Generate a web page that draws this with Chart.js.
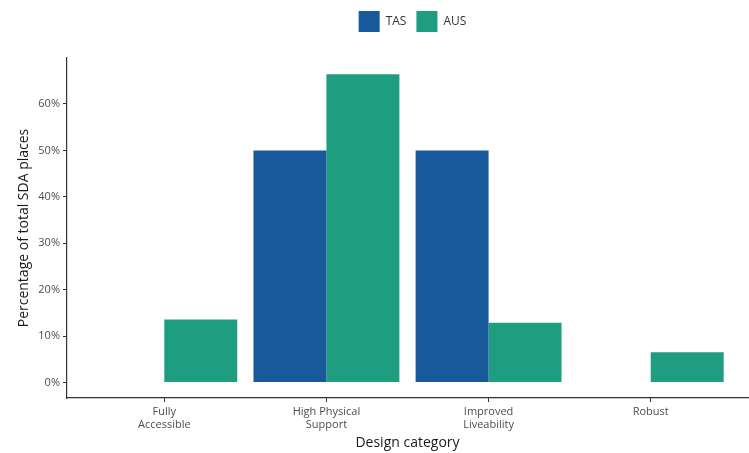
<!DOCTYPE html>
<html>
<head>
<meta charset="utf-8">
<script src="https://cdn.jsdelivr.net/npm/chart.js@4"></script>
<style>
  html, body { margin: 0; padding: 0; background: #fff; }
  #wrap { width: 749px; height: 453px; }
</style>
</head>
<body>
<div id="wrap"><canvas id="sdaChart" width="749" height="453"></canvas></div>
<script>
// Design categories and shares of SDA places
const categories = [['Fully', 'Accessible'], ['High Physical', 'Support'], ['Improved', 'Liveability'], ['Robust']];
const tasValues = [0, 50, 50, 0];
const ausValues = [13.6, 66.4, 12.9, 6.5];
const yTicks = [0, 10, 20, 30, 40, 50, 60];

const tickColor = '#4d4d4d';
const axisColor = '#333333';
const fontFamily = "'Open Sans', 'Noto Sans', sans-serif";

// push legend away from the plot and center it over the plot area
const legendTweak = {
    id: 'legendTweak',
    beforeInit(chart) {
        const fit = chart.legend.fit;
        chart.legend.fit = function () {
            fit.bind(chart.legend)();
            this.height += 16;
        };
    },
    afterLayout(chart) {
        chart.legend.left = chart.chartArea.left + 5;
        chart.legend.right = chart.chartArea.right + 5;
    }
};

const ctx = document.getElementById('sdaChart').getContext('2d');
const sdaChart = new Chart(ctx, {
    type: 'bar',
    data: {
        datasets: [
            {
                label: 'TAS',
                data: tasValues.map((v, i) => ({ x: i, y: v })),
                backgroundColor: '#18599b',
                borderWidth: 0
            },
            {
                label: 'AUS',
                data: ausValues.map((v, i) => ({ x: i, y: v })),
                backgroundColor: '#1f9d80',
                borderWidth: 0
            }
        ]
    },
    options: {
        responsive: false,
        animation: false,
        categoryPercentage: 0.9,
        barPercentage: 1.0,
        layout: { padding: { top: 1, right: 1, left: 16, bottom: 2 } },
        plugins: {
            legend: {
                position: 'top',
                labels: {
                    boxWidth: 21,
                    boxHeight: 21,
                    padding: 10,
                    color: '#333',
                    font: { family: fontFamily, size: 12 }
                }
            },
            tooltip: { enabled: false }
        },
        scales: {
            x: {
                type: 'linear',
                offset: false,
                min: -0.6,
                max: categories.length - 0.4,
                afterBuildTicks: scale => { scale.ticks = categories.map((c, i) => ({ value: i })); },
                afterFit: scale => { scale.height = 53; },
                ticks: {
                    color: tickColor,
                    font: { family: fontFamily, size: 11 },
                    padding: 3,
                    maxRotation: 0,
                    autoSkip: false,
                    callback: value => categories[value]
                },
                grid: { offset: false, drawOnChartArea: false, drawTicks: true, tickLength: 4, color: axisColor },
                border: { color: axisColor, width: 1.2 },
                title: {
                    display: true,
                    text: 'Design category',
                    color: '#1a1a1a',
                    font: { family: fontFamily, size: 14 },
                    padding: { top: 3, bottom: 0 }
                }
            },
            y: {
                min: -3.33,
                max: 69.9,
                afterBuildTicks: scale => { scale.ticks = yTicks.map(v => ({ value: v })); },
                afterFit: scale => { scale.width = 51; },
                ticks: {
                    color: tickColor,
                    font: { family: fontFamily, size: 11 },
                    padding: 3,
                    callback: value => value + '%'
                },
                grid: { drawOnChartArea: false, drawTicks: true, tickLength: 4, color: axisColor },
                border: { color: axisColor, width: 1.2 },
                title: {
                    display: true,
                    text: 'Percentage of total SDA places',
                    color: '#1a1a1a',
                    font: { family: fontFamily, size: 14 },
                    padding: { top: 0, bottom: 4 }
                }
            }
        }
    },
    plugins: [legendTweak]
});
</script>
</body>
</html>
